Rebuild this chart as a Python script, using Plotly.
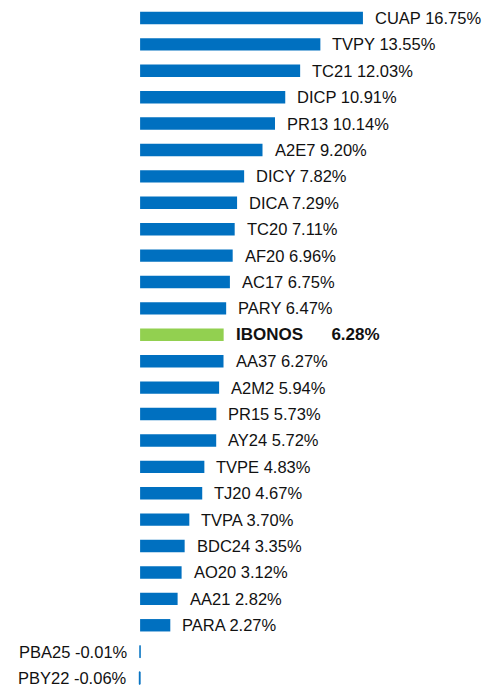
import plotly.graph_objects as go

names = ['CUAP', 'TVPY', 'TC21', 'DICP', 'PR13', 'A2E7', 'DICY', 'DICA', 'TC20', 'AF20',
         'AC17', 'PARY', 'IBONOS', 'AA37', 'A2M2', 'PR15', 'AY24', 'TVPE', 'TJ20', 'TVPA',
         'BDC24', 'AO20', 'AA21', 'PARA', 'PBA25', 'PBY22']
values = [16.75, 13.55, 12.03, 10.91, 10.14, 9.20, 7.82, 7.29, 7.11, 6.96,
          6.75, 6.47, 6.28, 6.27, 5.94, 5.73, 5.72, 4.83, 4.67, 3.70,
          3.35, 3.12, 2.82, 2.27, -0.01, -0.06]
highlight = 'IBONOS'

colors = ['#92D050' if n == highlight else '#0070C0' for n in names]
line_w = [1 if v < 0 else 0 for v in values]

fig = go.Figure(go.Bar(
    x=values,
    y=names,
    orientation='h',
    width=0.47,
    marker=dict(color=colors, line=dict(color='#0070C0', width=line_w)),
    hoverinfo='skip',
))

for n, v in zip(names, values):
    if n == highlight:
        txt = '<b>%s' % n + '\u00a0' * 6 + '%.2f%%</b>' % v
        size = 17
    else:
        txt = '%s %.2f%%' % (n, v)
        size = 16.5
    fig.add_annotation(
        x=v, y=n, text=txt, showarrow=False,
        xanchor='left' if v >= 0 else 'right',
        xshift=10 if v >= 0 else -10,
        font=dict(family='Liberation Sans, Arial', size=size, color='#111111'),
    )

fig.update_xaxes(range=[-10.53, 26.3], visible=False, fixedrange=True)
fig.update_yaxes(type='category', categoryarray=names, range=[25.3, -0.68],
                 visible=False, fixedrange=True)
fig.update_layout(
    width=490, height=686,
    margin=dict(l=0, r=0, t=0, b=0, autoexpand=False),
    plot_bgcolor='white', paper_bgcolor='white',
    showlegend=False,
)

fig.write_html('out.html', config={'displayModeBar': False},
               post_script="document.body.style.margin='0';")
